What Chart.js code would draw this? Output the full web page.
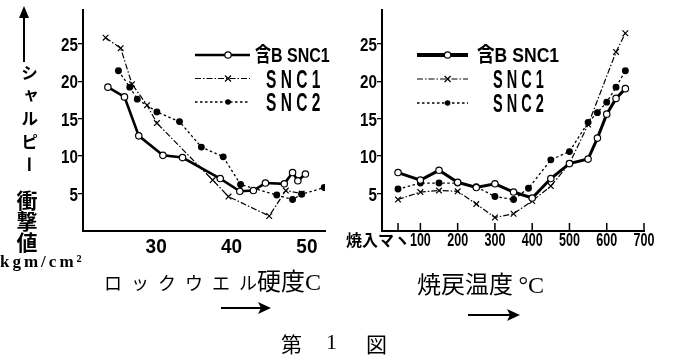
<!DOCTYPE html>
<html>
<head>
<meta charset="utf-8">
<script src="https://cdn.jsdelivr.net/npm/chart.js@4.4.0/dist/chart.umd.min.js"></script>
<style>
  body { margin: 0; background: #fff; width: 683px; height: 361px; overflow: hidden; position: relative; }
  .abs { position: absolute; color: #000; white-space: nowrap; }
  .jp { font-family: "Noto Sans CJK JP", sans-serif; }
  .serif { font-family: "Liberation Serif", serif; }
  canvas { position: absolute; top: 0; }
</style>
</head>
<body>
<canvas id="hardChart" style="left:0px" width="340" height="258"></canvas>
<canvas id="tempChart" style="left:340px" width="343" height="258"></canvas>

<svg class="abs" style="left:0;top:0" width="683" height="361">
  <line x1="24" y1="62" x2="24" y2="16" stroke="#000" stroke-width="2"/>
  <polygon points="24,6 19,18 29,18" fill="#000"/>
  <line x1="221" y1="308" x2="264" y2="308" stroke="#000" stroke-width="2"/>
  <polygon points="271,308 258,302 261,308 258,314" fill="#000"/>
  <line x1="468" y1="315" x2="513" y2="315" stroke="#000" stroke-width="2"/>
  <polygon points="520,315 507,309 510,315 507,321" fill="#000"/>
</svg>

<div class="abs jp" style="left:17px;top:64px;writing-mode:vertical-rl;font-size:17px;letter-spacing:6px;font-weight:bold">シャルピー</div>
<div class="abs jp" style="left:15px;top:190px;writing-mode:vertical-rl;font-size:21px;line-height:24px;font-weight:bold">衝撃値</div>
<div class="abs serif" style="left:0px;top:252px;font-weight:bold;font-size:17px;letter-spacing:3px">kgm/cm²</div>

<div class="abs jp" style="left:104px;top:262px;font-size:24px"><span style="letter-spacing:9px;font-size:18px">ロックウエ</span><span style="font-size:18px">ル</span>硬度<span class="serif">C</span></div>
<div class="abs jp" style="left:417px;top:265px;font-size:24px">焼戻温度 <span class="serif">°C</span></div>
<div class="abs jp" style="left:281px;top:328px;font-size:21px">第</div>
<div class="abs serif" style="left:326px;top:329px;font-size:22px">1</div>
<div class="abs jp" style="left:366px;top:328px;font-size:21px">図</div>

<script>
// left: Rockwell hardness C
var hardB = [23.6, 25.8, 27.7, 30.9, 33.5, 38.5, 41.1, 42.9, 44.5, 47.0, 48.1, 48.8, 49.8];
var impactHardB = [19.2, 17.9, 12.7, 10.1, 9.8, 7.0, 5.3, 5.4, 6.4, 6.3, 7.8, 6.7, 7.6];
var hardSnc1 = [23.3, 25.3, 26.8, 28.8, 30.1, 37.5, 39.6, 45.0, 47.2, 49.3];
var impactHardSnc1 = [25.8, 24.4, 19.6, 16.8, 14.4, 6.8, 4.6, 2.0, 5.4, 5.0];
var hardSnc2 = [25.0, 26.5, 27.5, 30.1, 33.1, 36.0, 38.9, 41.2, 46.0, 48.1, 49.3, 52.3];
var impactHardSnc2 = [21.4, 19.2, 17.6, 15.9, 14.6, 11.2, 9.9, 6.2, 4.8, 4.2, 4.9, 5.8];

// right: tempering temperature, 40 = as quenched (焼入マヽ)
var tempB = [40, 100, 150, 200, 250, 300, 350, 400, 450, 500, 550, 575, 600, 625, 650];
var impactTempB = [7.8, 6.8, 8.1, 6.5, 5.8, 6.3, 5.2, 4.4, 7.0, 9.0, 9.6, 12.4, 15.6, 17.7, 19.0];
var tempSnc1 = [40, 100, 150, 200, 250, 300, 350, 400, 450, 500, 550, 625, 650];
var impactTempSnc1 = [4.2, 5.2, 5.4, 5.3, 3.6, 1.8, 2.3, 4.0, 6.0, 9.0, 14.2, 23.9, 26.4];
var tempSnc2 = [40, 100, 150, 200, 250, 300, 350, 390, 450, 500, 550, 575, 600, 625, 650];
var impactTempSnc2 = [5.6, 6.4, 6.4, 6.4, 5.9, 4.6, 4.2, 5.7, 9.5, 10.6, 14.5, 15.8, 17.2, 19.2, 21.4];

var seriesNames = ["含B SNC1", "S N C 1", "S N C 2"];
var yTicks = [5, 10, 15, 20, 25];
var hardTicks = [30, 40, 50];
var hardTickLabels = ["30", "40", "50"];
var tempTicks = [40, 100, 200, 300, 400, 500, 600, 700];
var tempTickLabels = ["焼入マヽ", "100", "200", "300", "400", "500", "600", "700"];

var LAT = "'Liberation Sans', sans-serif";

function pts(xs, ys) {
    var out = [];
    for (var i = 0; i < xs.length; i++) out.push({ x: xs[i], y: ys[i] });
    return out;
}

function makeSets(xB, yB, x1, y1, x2, y2, thick) {
    return [
        { label: seriesNames[0], data: pts(xB, yB), borderColor: "#000", borderWidth: thick,
          pointStyle: "circle", pointRadius: 3.2, pointBackgroundColor: "#fff", pointBorderWidth: 1.2 },
        { label: seriesNames[1], data: pts(x1, y1), borderColor: "#000", borderWidth: 1.2,
          borderDash: [6, 2, 1.5, 2], pointStyle: "crossRot", pointRadius: 4, pointBorderWidth: 1.2 },
        { label: seriesNames[2], data: pts(x2, y2), borderColor: "#000", borderWidth: 1.3,
          borderDash: [2.5, 2.5], pointStyle: "circle", pointRadius: 2.8, pointBackgroundColor: "#000" }
    ];
}

// narrow text, like the old condensed type of the print
function narrowText(c, text, x, y, sx, align) {
    c.save();
    c.translate(x, y);
    c.scale(sx, 1);
    c.textAlign = align;
    c.textBaseline = "alphabetic";
    c.fillText(text, 0, 0);
    c.restore();
}

// legend drawn inside the plot, with each dataset's own line style
var innerLegend = {
    id: "innerLegend",
    afterDraw: function(chart) {
        var o = chart.options.plugins.innerLegend;
        var c = chart.ctx;
        chart.data.datasets.forEach(function(ds, i) {
            var y = o.top + i * o.gap;
            c.save();
            c.strokeStyle = "#000";
            c.lineWidth = i == 0 ? o.thick : ds.borderWidth;
            c.setLineDash(ds.borderDash || []);
            c.beginPath();
            c.moveTo(o.left, y);
            c.lineTo(o.left + o.len, y);
            c.stroke();
            c.setLineDash([]);
            c.lineWidth = 1.2;
            var mx = o.left + o.len * 0.6;
            if (i == 0) {
                c.fillStyle = "#fff";
                c.beginPath(); c.arc(mx, y, 3.2, 0, Math.PI * 2); c.fill(); c.stroke();
            } else if (i == 1) {
                c.beginPath();
                c.moveTo(mx - 3, y - 3); c.lineTo(mx + 3, y + 3);
                c.moveTo(mx + 3, y - 3); c.lineTo(mx - 3, y + 3);
                c.stroke();
            } else {
                c.fillStyle = "#000";
                c.beginPath(); c.arc(mx, y, 2.8, 0, Math.PI * 2); c.fill();
            }
            c.fillStyle = "#000";
            if (i == 0) {
                c.font = "bold 20px 'Liberation Sans', 'Noto Sans CJK JP'";
                narrowText(c, ds.label, o.left + o.len + o.gapB, y + 7, o.sxB, "left");
            } else {
                c.font = "bold 25px " + LAT;
                narrowText(c, ds.label, o.left + o.len + o.gapS, y + 9, o.sxS, "left");
            }
            c.restore();
        });
    }
};

// tick labels in narrow type, plus inward ticks on the x axis where wanted
var narrowTicks = {
    id: "narrowTicks",
    afterDraw: function(chart) {
        var o = chart.options.plugins.narrowTicks;
        var sx = chart.scales.x, sy = chart.scales.y, c = chart.ctx, a = chart.chartArea;
        c.save();
        c.fillStyle = "#000";
        c.font = "bold 19px " + LAT;
        sy.ticks.forEach(function(t) {
            narrowText(c, String(t.value), a.left - 5, sy.getPixelForValue(t.value) + 7, 0.8, "right");
        });
        sx.ticks.forEach(function(t, i) {
            var px = sx.getPixelForValue(t.value);
            var lab = o.labels[i];
            if (isNaN(Number(lab))) {
                c.font = "bold 16px 'Noto Sans CJK JP'";
                narrowText(c, lab, px + o.firstShift, o.base, 1, "center");
            } else {
                c.font = "bold " + o.size + "px " + LAT;
                narrowText(c, lab, px, o.base, o.sx, "center");
            }
            if (o.len) {
                c.strokeStyle = "#000";
                c.lineWidth = 1.5;
                c.beginPath(); c.moveTo(px, a.bottom); c.lineTo(px, a.bottom - o.len); c.stroke();
            }
        });
        c.restore();
    }
};

function makeChart(id, sets, xMin, xMax, xTicks, yWidth, pad, legend, ticksOpt) {
    return new Chart(document.getElementById(id), {
        type: "line",
        data: { datasets: sets },
        plugins: [innerLegend, narrowTicks],
        options: {
            responsive: false,
            animation: false,
            layout: { padding: pad },
            plugins: { legend: { display: false }, tooltip: { enabled: false },
                       innerLegend: legend, narrowTicks: ticksOpt },
            elements: { line: { tension: 0 } },
            scales: {
                x: {
                    type: "linear", min: xMin, max: xMax,
                    afterBuildTicks: function(s) { s.ticks = xTicks.map(function(v) { return { value: v }; }); },
                    afterFit: function(s) { s.height = 27; },
                    border: { color: "#000", width: 2 },
                    grid: { display: false },
                    ticks: { display: false }
                },
                y: {
                    min: 0, max: 29.5,
                    afterBuildTicks: function(s) { s.ticks = yTicks.map(function(v) { return { value: v }; }); },
                    afterFit: function(s) { s.width = yWidth; },
                    border: { color: "#000", width: 2 },
                    grid: { drawOnChartArea: false, tickLength: 5, color: "#000", lineWidth: 1.3 },
                    ticks: { display: false }
                }
            }
        }
    });
}

makeChart("hardChart",
    makeSets(hardB, impactHardB, hardSnc1, impactHardSnc1, hardSnc2, impactHardSnc2, 2.6),
    20.3, 52.4, hardTicks, 83, { top: 10, right: 15 },
    { left: 195, top: 55, gap: 23.5, len: 55, thick: 2.6, gapB: 5, gapS: 16, sxB: 0.8, sxS: 0.62 },
    { labels: hardTickLabels, size: 20, sx: 0.95, base: 253, len: 0, firstShift: 0 });

makeChart("tempChart",
    makeSets(tempB, impactTempB, tempSnc1, impactTempSnc1, tempSnc2, impactTempSnc2, 3),
    -3, 700, tempTicks, 42, { top: 10, right: 39 },
    { left: 77, top: 55, gap: 24, len: 51, thick: 3.8, gapB: 9, gapS: 25, sxB: 0.88, sxS: 0.58 },
    { labels: tempTickLabels, size: 19, sx: 0.66, base: 246, len: 8, firstShift: -20 });
</script>
</body>
</html>
